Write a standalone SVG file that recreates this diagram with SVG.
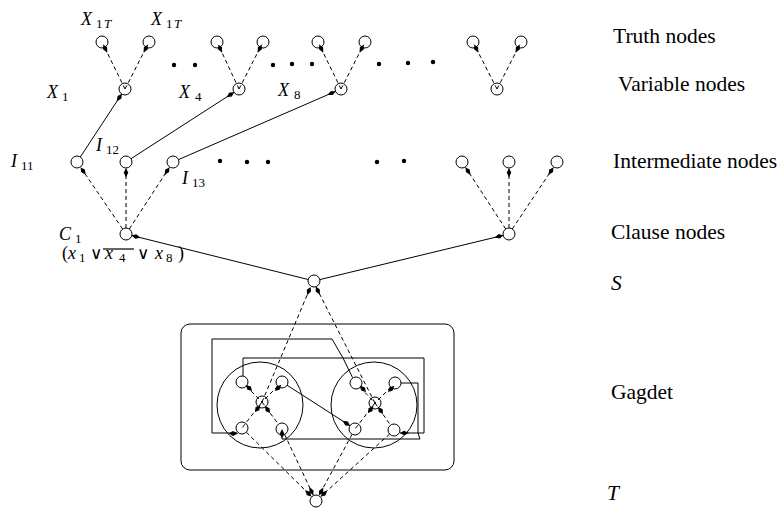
<svg xmlns="http://www.w3.org/2000/svg" xmlns:xlink="http://www.w3.org/1999/xlink" width="783" height="508" viewBox="0 0 783 508">
<style>
.n{fill:#fff;stroke:#000;stroke-width:1}
.bc{fill:none;stroke:#000;stroke-width:1}
.s{fill:none;stroke:#000;stroke-width:1}
.d{fill:none;stroke:#000;stroke-width:1;stroke-dasharray:4,3}
.a{marker-end:url(#ar)}
.dot{fill:#000}
.lab{font-family:"Liberation Serif","Times New Roman",serif;font-size:21.5px;fill:#000}
.m{font-family:"Liberation Serif","Times New Roman",serif;font-size:18px;fill:#000}
.it{font-style:italic}
.sb{font-size:13px}
.op{font-family:"DejaVu Sans",sans-serif;font-size:17px}
</style>
<defs>
<marker id="ar" viewBox="-10 -4 11 8" refX="0" refY="0" markerWidth="11" markerHeight="8" markerUnits="userSpaceOnUse" orient="auto">
<path d="M0,0 L-4,-2.3 L-9,0 L-4,2.3 Z" fill="#000"/>
</marker>
<path id="ah" d="M0,0 L-4,-2.4 L-9,0 L-4,2.4 Z" fill="#000"/>
</defs>

<g id="gadget-frame">
<rect x="181" y="324" width="273" height="146" rx="9" class="bc"/>
<circle cx="260" cy="405" r="43" class="bc"/>
<circle cx="374" cy="405" r="43" class="bc"/>
</g>

<g id="truth-nodes">
<g id="t1"><circle cx="102" cy="42" r="6" class="n"/></g>
<g id="t2"><circle cx="149" cy="42" r="6" class="n"/></g>
<g id="t3"><circle cx="217" cy="42" r="6" class="n"/></g>
<g id="t4"><circle cx="263" cy="42" r="6" class="n"/></g>
<g id="t5"><circle cx="318" cy="42" r="6" class="n"/></g>
<g id="t6"><circle cx="365" cy="42" r="6" class="n"/></g>
<g id="t7"><circle cx="473" cy="42" r="6" class="n"/></g>
<g id="t8"><circle cx="521" cy="42" r="6" class="n"/></g>
</g>
<g id="variable-nodes">
<g id="v1"><circle cx="125" cy="89" r="6" class="n"/></g>
<g id="v4"><circle cx="239" cy="89" r="6" class="n"/></g>
<g id="v8"><circle cx="341" cy="89" r="6" class="n"/></g>
<g id="vn"><circle cx="497" cy="89" r="6" class="n"/></g>
</g>
<g id="intermediate-nodes">
<g id="i11"><circle cx="77" cy="162" r="6" class="n"/></g>
<g id="i12"><circle cx="126" cy="162" r="6" class="n"/></g>
<g id="i13"><circle cx="173" cy="162" r="6" class="n"/></g>
<g id="in1"><circle cx="462" cy="162" r="6" class="n"/></g>
<g id="in2"><circle cx="509" cy="162" r="6" class="n"/></g>
<g id="in3"><circle cx="557" cy="162" r="6" class="n"/></g>
</g>
<g id="clause-nodes">
<g id="c1"><circle cx="126" cy="234" r="6" class="n"/></g>
<g id="cn"><circle cx="509" cy="234" r="6" class="n"/></g>
</g>
<g id="s-node"><circle cx="314" cy="281" r="6" class="n"/></g>
<g id="t-node"><circle cx="316" cy="501" r="6" class="n"/></g>
<g id="gadget-left">
<g id="gl-tl"><circle cx="242" cy="382" r="6" class="n"/></g>
<g id="gl-tr"><circle cx="282" cy="382" r="6" class="n"/></g>
<g id="gl-c"><circle cx="262" cy="402" r="6" class="n"/></g>
<g id="gl-bl"><circle cx="242" cy="428" r="6" class="n"/></g>
<g id="gl-br"><circle cx="282" cy="429" r="6" class="n"/></g>
</g>
<g id="gadget-right">
<g id="gr-tl"><circle cx="356" cy="383" r="6" class="n"/></g>
<g id="gr-tr"><circle cx="395" cy="383" r="6" class="n"/></g>
<g id="gr-c"><circle cx="375" cy="403" r="6" class="n"/></g>
<g id="gr-bl"><circle cx="355" cy="429" r="6" class="n"/></g>
<g id="gr-br"><circle cx="394" cy="430" r="6" class="n"/></g>
</g>

<g id="connectors">
<path class="d a" d="M125,89 L103.3,44.7"/>
<path class="d a" d="M125,89 L147.7,44.7"/>
<path class="d a" d="M239,89 L218.3,44.7"/>
<path class="d a" d="M239,89 L261.7,44.7"/>
<path class="d a" d="M341,89 L319.3,44.7"/>
<path class="d a" d="M341,89 L363.7,44.7"/>
<path class="d a" d="M497,89 L474.3,44.7"/>
<path class="d a" d="M497,89 L519.7,44.7"/>

<path class="s a" d="M80.3,157 L121.7,94"/>
<path class="s a" d="M131,158.7 L234,92.3"/>
<path class="s a" d="M178.5,159.6 L335.5,91.4"/>

<path class="d a" d="M122.6,229 L80.7,167.4"/>
<path class="d a" d="M126,228 L126,168.5"/>
<path class="d a" d="M129.3,229 L169.4,167.4"/>
<path class="d a" d="M505.7,229 L465.6,167.4"/>
<path class="d a" d="M509,228 L509,168.5"/>
<path class="d a" d="M512.3,229 L553.4,167.4"/>

<path class="s a" d="M308.2,279.5 L131.8,235.5"/>
<path class="s a" d="M319.8,279.6 L503.2,235.4"/>

<path class="d a" d="M262,402 L310.5,287"/>
<path class="d a" d="M375,403 L315.9,286.8"/>

<path class="d a" d="M246.3,432.2 L311.4,496.4"/>
<path class="d a" d="M284.6,434.4 L313.2,495.1"/>
<path class="d a" d="M352.1,434.3 L319.1,495.3"/>
<path class="d a" d="M389.6,434 L320.8,496.6"/>

<path class="d" d="M246.2,386.2 L262,402"/>
<path class="d" d="M277.8,386.2 L262,402"/>
<path class="d" d="M262,402 L242,428"/>
<path class="d" d="M262,402 L278.4,424.2"/>
<path class="d" d="M360.1,387.4 L375,403"/>
<path class="d" d="M390.8,387.2 L375,403"/>
<path class="d" d="M375,403 L355,429"/>
<path class="d" d="M375,403 L390.5,425.1"/>

<use xlink:href="#ah" href="#ah" transform="translate(252,391) rotate(45)"/>
<use xlink:href="#ah" href="#ah" transform="translate(275,391) rotate(135)"/>
<use xlink:href="#ah" href="#ah" transform="translate(255,412) rotate(127)"/>
<use xlink:href="#ah" href="#ah" transform="translate(270,413) rotate(54)"/>
<use xlink:href="#ah" href="#ah" transform="translate(366,392) rotate(46)"/>
<use xlink:href="#ah" href="#ah" transform="translate(388,392) rotate(135)"/>
<use xlink:href="#ah" href="#ah" transform="translate(368,413) rotate(127)"/>
<use xlink:href="#ah" href="#ah" transform="translate(383,414) rotate(55)"/>

<path class="s" d="M237,433 H212 V339 H332 L343,358 L352.5,377.5"/>
<use xlink:href="#ah" href="#ah" transform="translate(229,433.5) rotate(180)"/>
<path class="s a" d="M243,376 V358 H424 V433 H400"/>
<path class="s" d="M282,435 V439 H420 L418,433 V383 H401"/>
<use xlink:href="#ah" href="#ah" transform="translate(282,438) rotate(90)"/>
<path class="s a" d="M287,385.2 L350,425.7"/>
</g>

<g id="dots">
<circle class="dot" cx="174" cy="65" r="2.2"/>
<circle class="dot" cx="195" cy="65" r="2.2"/>
<circle class="dot" cx="273" cy="65" r="2.2"/>
<circle class="dot" cx="292" cy="64" r="2.2"/>
<circle class="dot" cx="312" cy="64" r="2.2"/>
<circle class="dot" cx="379" cy="64" r="2.2"/>
<circle class="dot" cx="408" cy="63" r="2.2"/>
<circle class="dot" cx="433" cy="62" r="2.2"/>
<circle class="dot" cx="220" cy="161" r="2.2"/>
<circle class="dot" cx="247" cy="162" r="2.2"/>
<circle class="dot" cx="268" cy="162" r="2.2"/>
<circle class="dot" cx="377" cy="162" r="2.2"/>
<circle class="dot" cx="404" cy="161" r="2.2"/>
</g>

<g id="node-labels" class="m">
<text y="25"><tspan class="it" x="81">X</tspan><tspan class="sb" x="96" y="28">1</tspan><tspan class="sb it" x="104" y="28">T</tspan></text>
<text y="25"><tspan class="it" x="151">X</tspan><tspan class="sb" x="166" y="28">1</tspan><tspan class="sb it" x="174" y="28">T</tspan></text>
<text y="98"><tspan class="it" x="47">X</tspan><tspan class="sb" x="62" y="101">1</tspan></text>
<text y="98"><tspan class="it" x="179">X</tspan><tspan class="sb" x="195" y="101">4</tspan></text>
<text y="96"><tspan class="it" x="278">X</tspan><tspan class="sb" x="294" y="99">8</tspan></text>
<text y="167"><tspan class="it" x="11">I</tspan><tspan class="sb" x="21" y="170">11</tspan></text>
<text y="151"><tspan class="it" x="96">I</tspan><tspan class="sb" x="106" y="154">12</tspan></text>
<text y="184"><tspan class="it" x="182">I</tspan><tspan class="sb" x="192" y="187">13</tspan></text>
<text y="240"><tspan class="it" x="59">C</tspan><tspan class="sb" x="75" y="243">1</tspan></text>
<text y="259"><tspan x="62">(</tspan><tspan class="it" x="68">x</tspan><tspan class="sb" x="79" y="262">1</tspan><tspan class="op" x="90" y="259">∨</tspan><tspan class="it" x="105">x</tspan><tspan class="sb" x="119" y="262">4</tspan><tspan class="op" x="137" y="259">∨</tspan><tspan class="it" x="155">x</tspan><tspan class="sb" x="166" y="262">8</tspan><tspan x="178" y="259">)</tspan></text>
<line x1="103" y1="249" x2="134" y2="249" stroke="#000" stroke-width="1.2"/>
</g>

<g id="legend" class="lab">
<text x="613" y="43">Truth nodes</text>
<text x="618" y="91">Variable nodes</text>
<text x="613" y="168">Intermediate nodes</text>
<text x="611" y="239">Clause nodes</text>
<text x="611" y="290" font-style="italic">S</text>
<text x="611" y="399">Gagdet</text>
<text x="607" y="500" font-style="italic">T</text>
</g>
</svg>
